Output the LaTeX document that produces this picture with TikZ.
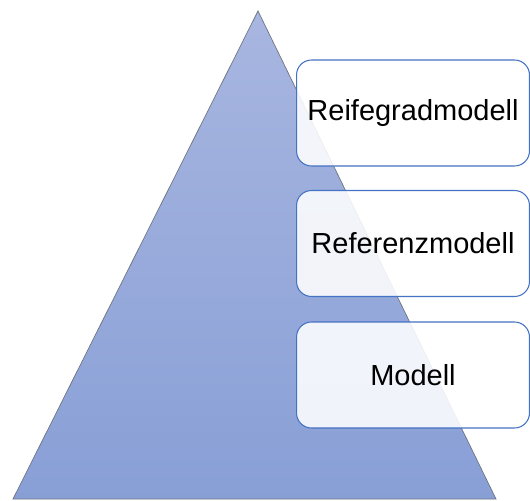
\documentclass[tikz,border=0pt]{standalone}
\usepackage{fontspec}
\setmainfont{Liberation Sans}
\usepackage{tikz}
\definecolor{pyrtop}{RGB}{168,182,224}
\definecolor{pyrbot}{RGB}{136,159,214}
\definecolor{pyrline}{RGB}{110,116,130}
\definecolor{boxline}{RGB}{68,114,196}
\tikzset{
  pyr/.style={draw=pyrline, thin, top color=pyrtop, bottom color=pyrbot},
  lvlbox/.style={draw=boxline, line width=0.6pt, rounded corners=0.3cm, fill=white,
                 fill opacity=0.88, text opacity=1,
                 font=\fontsize{16.5}{19}\selectfont,
                 minimum width=4.66cm, minimum height=2.12cm, inner sep=0pt},
}
\begin{document}
\begin{tikzpicture}[x=0.02cm, y=-0.02cm]
\useasboundingbox (0,0) rectangle (530,500);
% pyramid
\path[pyr] (13,499) -- (258,11) -- (496,499) -- cycle;
% levels
\node[lvlbox] (reife)    at (413,113) {Reifegradmodell};
\node[lvlbox] (referenz) at (413,243.5) {Referenzmodell};
\node[lvlbox] (modell)   at (413,375) {Modell};
\end{tikzpicture}
\end{document}
